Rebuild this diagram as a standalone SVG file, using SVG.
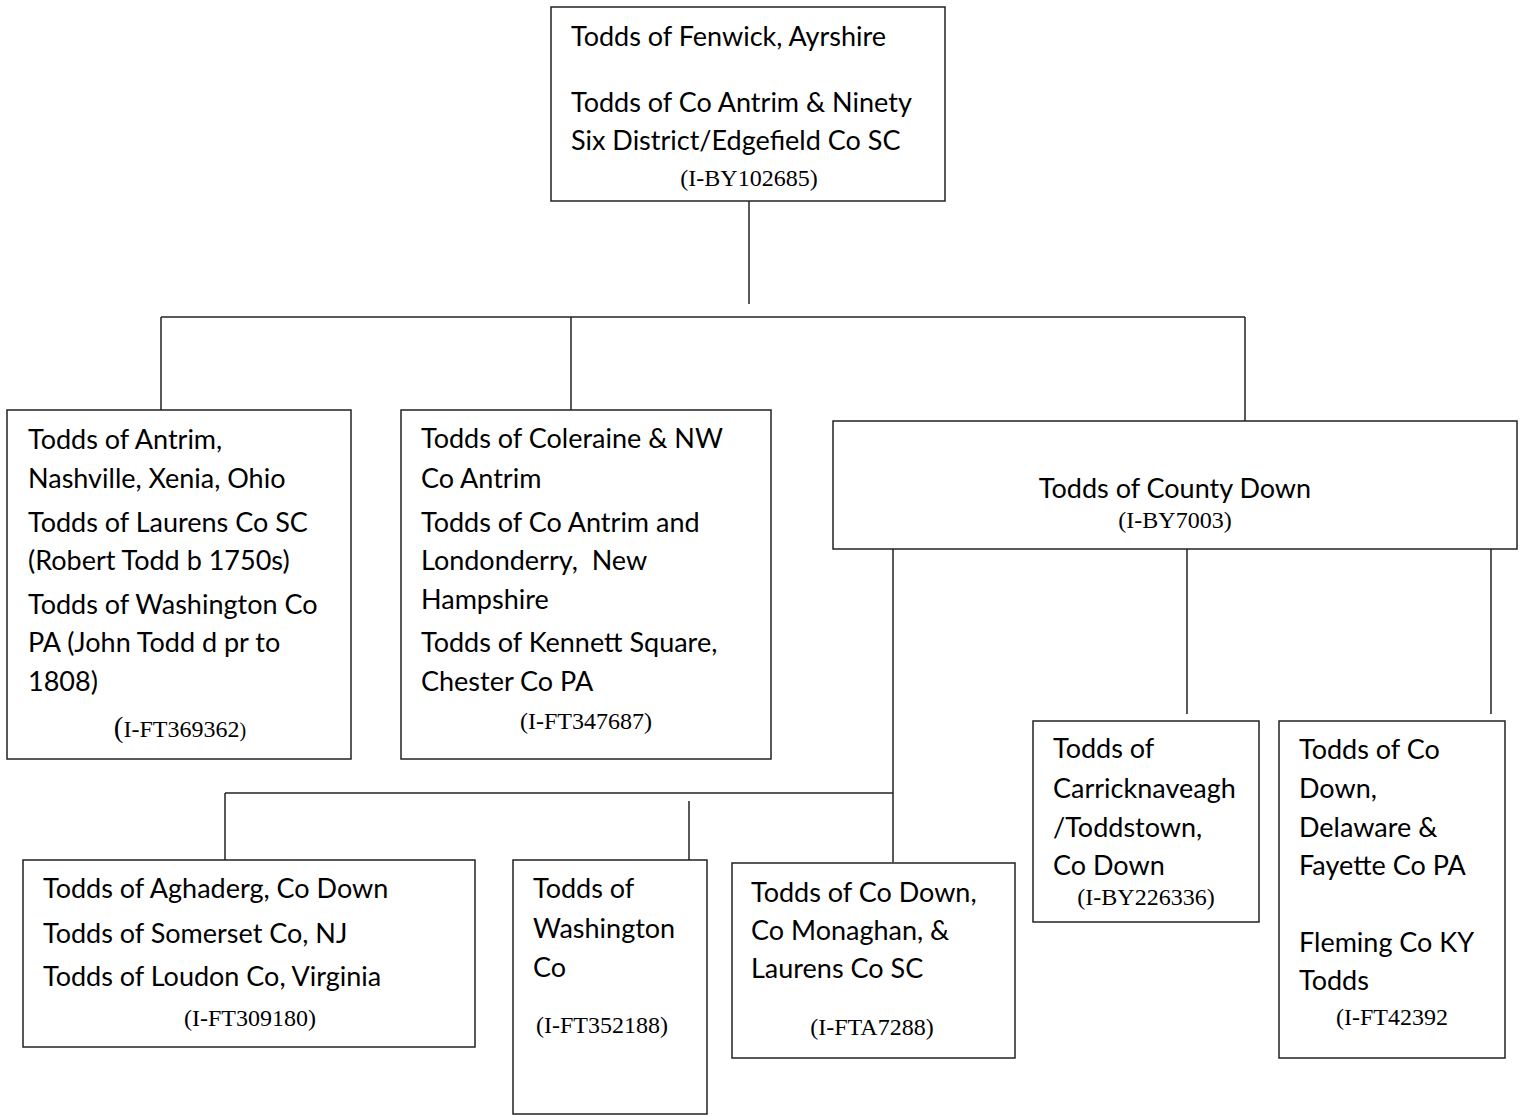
<svg xmlns="http://www.w3.org/2000/svg" width="1523" height="1115" viewBox="0 0 1523 1115">
<style>
.box{fill:#fff;stroke:#222;stroke-width:1.5}
.t{font-family:Lato,"Open Sans","Liberation Sans",sans-serif;font-size:27px;fill:#000}
.id{font-family:"Liberation Serif","Times New Roman",serif;font-size:24px;fill:#000;text-anchor:middle}
.c{fill:none;stroke:#222;stroke-width:1.5}
</style>
<rect width="1523" height="1115" fill="#fff"/>
<g id="connectors">
<path class="c" d="M749 201V304"/>
<path class="c" d="M161 317H1245"/>
<path class="c" d="M161 317V410"/>
<path class="c" d="M571 317V410"/>
<path class="c" d="M1245 317V421"/>
<path class="c" d="M893 549V862"/>
<path class="c" d="M225 793H893"/>
<path class="c" d="M225 793V860"/>
<path class="c" d="M689 801V860"/>
<path class="c" d="M1187 549V714"/>
<path class="c" d="M1491 549V714"/>
</g>
<g id="fenwick">
<rect class="box" x="551" y="7" width="394" height="194"/>
<text class="t" x="571" y="46">Todds of Fenwick, Ayrshire</text>
<text class="t" x="571" y="112">Todds of Co Antrim &amp; Ninety</text>
<text class="t" x="571" y="150">Six District/Edgefield Co SC</text>
<text class="id" x="749" y="186" font-size="25.5">(I-BY102685)</text>
</g>
<g id="antrim">
<rect class="box" x="7" y="410" width="344" height="349"/>
<text class="t" x="28" y="449">Todds of Antrim,</text>
<text class="t" x="28" y="488">Nashville, Xenia, Ohio</text>
<text class="t" x="28" y="532">Todds of Laurens Co SC</text>
<text class="t" x="28" y="570">(Robert Todd b 1750s)</text>
<text class="t" x="28" y="614">Todds of Washington Co</text>
<text class="t" x="28" y="652">PA (John Todd d pr to</text>
<text class="t" x="28" y="691">1808)</text>
<text class="id" x="180" y="737" font-size="23.5"><tspan font-size="29">(</tspan>I-FT369362<tspan font-size="20">)</tspan></text>
</g>
<g id="coleraine">
<rect class="box" x="401" y="410" width="370" height="349"/>
<text class="t" x="421" y="448">Todds of Coleraine &amp; NW</text>
<text class="t" x="421" y="488">Co Antrim</text>
<text class="t" x="421" y="532">Todds of Co Antrim and</text>
<text class="t" x="421" y="570" xml:space="preserve">Londonderry,  New</text>
<text class="t" x="421" y="609">Hampshire</text>
<text class="t" x="421" y="652">Todds of Kennett Square,</text>
<text class="t" x="421" y="691">Chester Co PA</text>
<text class="id" x="586" y="729">(I-FT347687)</text>
</g>
<g id="county-down">
<rect class="box" x="833" y="421" width="684" height="128"/>
<text class="t" x="1175" y="498" text-anchor="middle">Todds of County Down</text>
<text class="id" x="1175" y="528" font-size="18">(I-BY7003)</text>
</g>
<g id="carricknaveagh">
<rect class="box" x="1033" y="721" width="226" height="201"/>
<text class="t" x="1053" y="758">Todds of</text>
<text class="t" x="1053" y="798">Carricknaveagh</text>
<text class="t" x="1053" y="837">/Toddstown,</text>
<text class="t" x="1053" y="875">Co Down</text>
<text class="id" x="1146" y="905" font-size="19.5">(I-BY226336)</text>
</g>
<g id="fleming">
<rect class="box" x="1279" y="721" width="226" height="337"/>
<text class="t" x="1299" y="759">Todds of Co</text>
<text class="t" x="1299" y="798">Down,</text>
<text class="t" x="1299" y="837">Delaware &amp;</text>
<text class="t" x="1299" y="875">Fayette Co PA</text>
<text class="t" x="1299" y="952">Fleming Co KY</text>
<text class="t" x="1299" y="990">Todds</text>
<text class="id" x="1392" y="1025" font-size="23.5">(I-FT42392</text>
</g>
<g id="aghaderg">
<rect class="box" x="23" y="860" width="452" height="187"/>
<text class="t" x="43" y="898">Todds of Aghaderg, Co Down</text>
<text class="t" x="43" y="943">Todds of Somerset Co, NJ</text>
<text class="t" x="43" y="986">Todds of Loudon Co, Virginia</text>
<text class="id" x="250" y="1026">(I-FT309180)</text>
</g>
<g id="washington">
<rect class="box" x="513" y="860" width="194" height="254"/>
<text class="t" x="533" y="898">Todds of</text>
<text class="t" x="533" y="938">Washington</text>
<text class="t" x="533" y="977">Co</text>
<text class="id" x="602" y="1033" font-size="22.5">(I-FT352188)</text>
</g>
<g id="monaghan">
<rect class="box" x="732" y="863" width="283" height="195"/>
<text class="t" x="751" y="902">Todds of Co Down,</text>
<text class="t" x="751" y="940">Co Monaghan, &amp;</text>
<text class="t" x="751" y="978">Laurens Co SC</text>
<text class="id" x="872" y="1035" font-size="25">(I-FTA7288)</text>
</g>
</svg>
